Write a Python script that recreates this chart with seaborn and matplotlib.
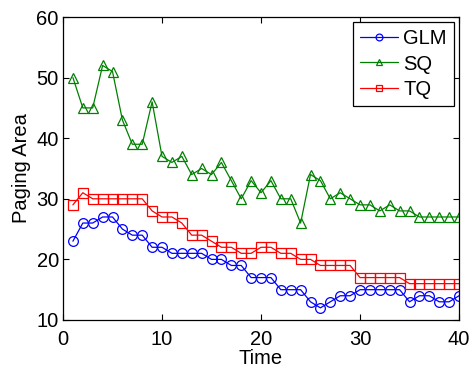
import matplotlib
matplotlib.use('Agg')
import matplotlib.pyplot as plt
import seaborn as sns
import pandas as pd

time = list(range(1, 41))
glm = [23, 26, 26, 27, 27, 25, 24, 24, 22, 22, 21, 21, 21, 21, 20, 20, 19, 19, 17, 17,
       17, 15, 15, 15, 13, 12, 13, 14, 14, 15, 15, 15, 15, 15, 13, 14, 14, 13, 13, 14]
sq = [50, 45, 45, 52, 51, 43, 39, 39, 46, 37, 36, 37, 34, 35, 34, 36, 33, 30, 33, 31,
      33, 30, 30, 26, 34, 33, 30, 31, 30, 29, 29, 28, 29, 28, 28, 27, 27, 27, 27, 27]
tq = [29, 31, 30, 30, 30, 30, 30, 30, 28, 27, 27, 26, 24, 24, 23, 22, 22, 21, 21, 22,
      22, 21, 21, 20, 20, 19, 19, 19, 19, 17, 17, 17, 17, 17, 16, 16, 16, 16, 16, 16]
methods = ['GLM', 'SQ', 'TQ']

df = pd.concat([
    pd.DataFrame({'Time': time, 'Paging Area': vals, 'Method': name})
    for name, vals in zip(methods, [glm, sq, tq])
])

sns.set_style('ticks', {'text.color': 'black', 'axes.labelcolor': 'black',
                        'xtick.color': 'black', 'ytick.color': 'black',
                        'axes.edgecolor': 'black'})
plt.rcParams['font.family'] = ['Liberation Sans', 'DejaVu Sans']

fig = plt.figure(figsize=(4.72, 3.72), dpi=100)
ax = fig.add_axes([0.1335, 0.1398, 0.839, 0.8145])

palette = {'GLM': '#0000ff', 'SQ': '#008000', 'TQ': '#ff0000'}
markers = {'GLM': 'o', 'SQ': '^', 'TQ': 's'}
sns.lineplot(data=df, x='Time', y='Paging Area', hue='Method', style='Method',
             palette=palette, markers=markers, dashes=False, linewidth=0.9,
             markersize=7, ax=ax, legend=False)

# hollow markers, edge in the line colour
for line, name in zip(ax.lines, methods):
    line.set_markerfacecolor('none')
    line.set_markeredgecolor(palette[name])
    line.set_markeredgewidth(0.9)
    line.set_label(name)

ax.set_xlim(0, 40)
ax.set_ylim(10, 60)
ax.set_xticks([0, 10, 20, 30, 40])
ax.set_yticks([10, 20, 30, 40, 50, 60])
ax.tick_params(direction='in', top=True, right=True, labelsize=14.5, length=4,
               width=0.8, colors='black')
ax.tick_params(axis='x', pad=7)
ax.tick_params(axis='y', pad=3)
for s in ax.spines.values():
    s.set_linewidth(0.9)
    s.set_color('black')
ax.set_xlabel('Time', fontsize=14.5, labelpad=0, color='black')
ax.set_ylabel('Paging Area', fontsize=14.5, labelpad=4, color='black')

leg = ax.legend(loc='upper right', fontsize=14.5, frameon=True, fancybox=False,
                edgecolor='black', framealpha=1, handlelength=1.9,
                borderaxespad=0.25, labelspacing=0.32, handletextpad=0.25,
                borderpad=0.35, markerscale=0.7)
leg.get_frame().set_linewidth(0.9)
for t in leg.get_texts():
    t.set_color('black')

fig.savefig('out.png', dpi=100)
